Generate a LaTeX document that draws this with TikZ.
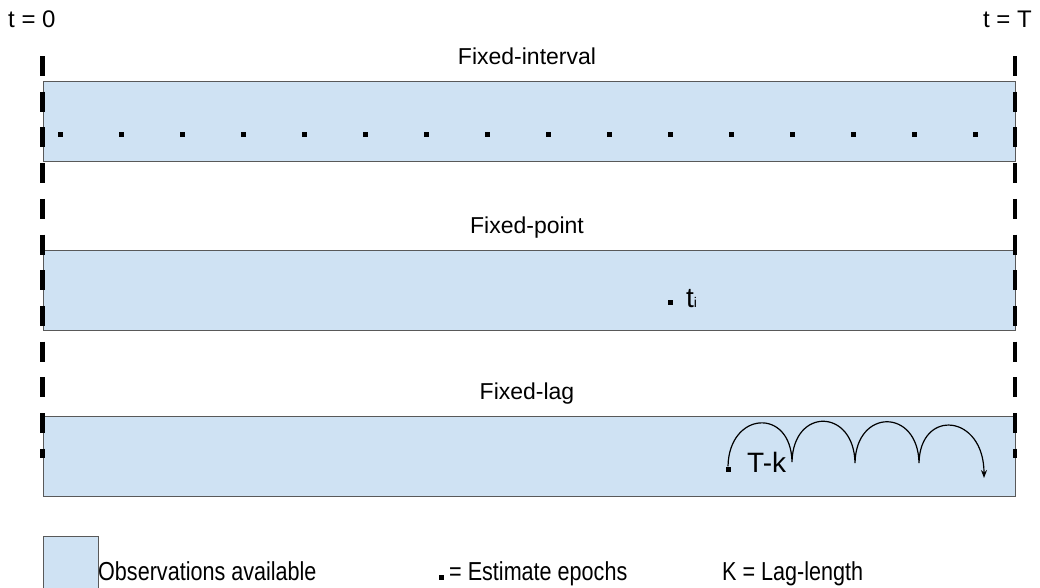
\documentclass[tikz,border=0pt]{standalone}
\usepackage{fontspec}
\setmainfont{Liberation Sans}
\newfontfamily\legendfont[FakeStretch=0.83]{Liberation Sans}
\usetikzlibrary{arrows.meta}
\definecolor{obsfill}{HTML}{CFE2F3}
\definecolor{obsedge}{HTML}{595959}

\begin{document}
\begin{tikzpicture}[x=1pt,y=-1pt,
  obsbox/.style={draw=obsedge, fill=obsfill, line width=1.3pt, rectangle,
    inner sep=0pt, anchor=north west},
  epoch/.style={fill=black, draw=none, rectangle, minimum size=5pt, inner sep=0pt},
  lbl/.style={inner sep=0pt, font=\fontsize{23}{27}\selectfont},
  endlbl/.style={inner sep=0pt, font=\fontsize{24}{28}\selectfont},
  legtxt/.style={inner sep=0pt, font=\legendfont\fontsize{26}{30}\selectfont},
  boxtxt/.style={inner sep=0pt, font=\fontsize{28}{32}\selectfont},
  boundary/.style={line width=4.5pt, dash pattern=on 20pt off 15.7pt},
  hop/.style={line width=1.2pt, -{Stealth[length=8pt,width=6pt]}}
]
\useasboundingbox (0,0) rectangle (1040,587);
\clip (0,0) rectangle (1040,587);

% time axis ends
\node[endlbl, anchor=base west] (t0) at (8,27) {t = 0};
\node[endlbl, anchor=base east] (tT) at (1032,27) {t = T};

% observation windows
\node[obsbox, minimum width=972pt, minimum height=80pt] (fi) at (43,81) {};
\node[obsbox, minimum width=972pt, minimum height=80pt] (fp) at (43,250) {};
\node[obsbox, minimum width=972pt, minimum height=80pt] (fl) at (43,416) {};

\node[lbl, anchor=base] (fil) at (527,64) {Fixed-interval};
\node[lbl, anchor=base] (fpl) at (527,233) {Fixed-point};
\node[lbl, anchor=base] (fll) at (527,399) {Fixed-lag};

% start and end boundaries
\coordinate (l0) at (42.5,56);
\coordinate (l1) at (42.5,458);
\coordinate (r0) at (1015,56);
\coordinate (r1) at (1015,458);
\draw[boundary] (l0) -- (l1);
\draw[boundary] (r0) -- (r1);

% fixed-interval: every epoch
\foreach \i in {0,...,15}
  \node[epoch] (e\i) at ({60.7+61*\i},134) {};

% fixed-point: a single epoch
\node[epoch] (ti) at (670,302) {};
\node[boxtxt, anchor=base west] (til) at (686,307) {t{\fontsize{14}{14}\selectfont i}};

% fixed-lag: sliding window
\node[epoch] (tk) at (728,469) {};
\node[boxtxt, anchor=base west] (tkl) at (747,472) {T-k};
\coordinate (h1) at (792,462);
\coordinate (h2) at (855,463);
\coordinate (h3) at (919,463);
\coordinate (h4) at (984,478);
\draw[hop] (tk.north) .. controls +(1,-55) and +(-1,-55) .. (h1)
  .. controls +(1,-55) and +(-1,-55) .. (h2)
  .. controls +(1,-55) and +(-1,-55) .. (h3)
  .. controls +(1,-55) and +(0,-64) .. (h4);

% legend
\node[obsbox, minimum width=55pt, minimum height=70pt] (leg) at (43,536) {};
\node[legtxt, anchor=base west] (legobs) at (98,580) {Observations available};
\node[epoch] (legdot) at (441,577) {};
\node[legtxt, anchor=base west] (legep) at (449,580) {= Estimate epochs};
\node[legtxt, anchor=base west] (legk) at (722,580) {K = Lag-length};
\end{tikzpicture}
\end{document}
